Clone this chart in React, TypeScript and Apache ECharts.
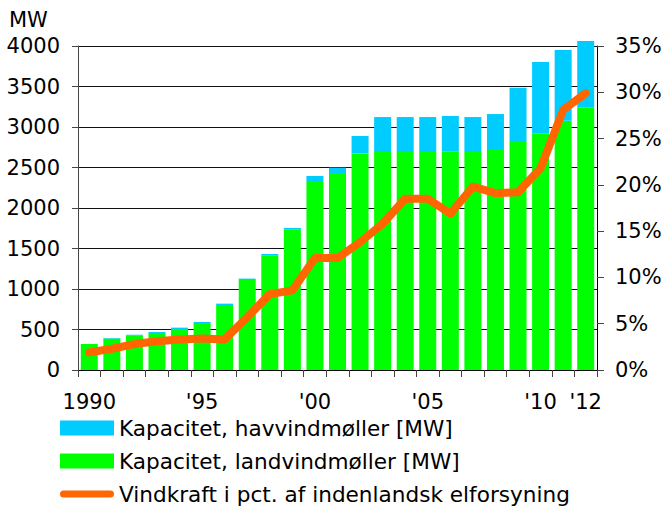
import React, { useEffect, useRef } from "react";
import * as echarts from "echarts";

const years = [
  "1990", "1991", "1992", "1993", "1994", "1995", "1996", "1997", "1998", "1999",
  "2000", "2001", "2002", "2003", "2004", "2005", "2006", "2007", "2008", "2009",
  "2010", "2011", "2012",
];
const landMW = [
  321, 388, 424, 457, 506, 580, 802, 1111, 1416, 1737,
  2333, 2432, 2671, 2691, 2691, 2691, 2700, 2691, 2728, 2815,
  2922, 3078, 3239,
];
const offshoreMW = [
  0, 7, 12, 12, 17, 13, 17, 17, 16, 16,
  62, 66, 218, 432, 432, 432, 436, 432, 432, 671,
  880, 873, 823,
];
const windSharePct = [
  1.9, 2.3, 2.8, 3.1, 3.3, 3.4, 3.3, 5.7, 8.2, 8.6,
  12.1, 12.1, 13.8, 15.8, 18.5, 18.5, 16.9, 19.8, 19.1, 19.2,
  21.8, 28.1, 29.9,
];
const xTickIndices = [0, 5, 10, 15, 20, 22];
const xTickLabels = ["1990", "'95", "'00", "'05", "'10", "'12"];

const seriesNames = [
  "Kapacitet, havvindmøller [MW]",
  "Kapacitet, landvindmøller [MW]",
  "Vindkraft i pct. af indenlandsk elforsyning",
];

const FONT = "'DejaVu Sans', Verdana, sans-serif";
const FS = 21;

export default function App() {
  const ref = useRef<HTMLDivElement>(null);
  useEffect(() => {
    document.body.style.margin = "0";
    const chart = echarts.init(ref.current!, null, { renderer: "svg" });
    const lineIcon =
      "path://M4,0 L56,0 A4,4 0 0 1 56,8 L4,8 A4,4 0 0 1 4,0 Z";
    chart.setOption({
      animation: false,
      textStyle: { fontFamily: FONT, color: "#000" },
      grid: { left: 78, right: 70, top: 46, bottom: 136 },
      graphic: [
        {
          type: "text",
          left: 9,
          top: 9,
          style: { text: "MW", fontFamily: FONT, fontSize: FS, fill: "#000" },
        },
      ],
      legend: {
        orient: "vertical",
        left: 60,
        top: 417,
        height: 120,
        padding: 0,
        itemWidth: 54,
        itemHeight: 15,
        itemGap: 11,
        textStyle: { fontFamily: FONT, fontSize: 21.6, lineHeight: 21, color: "#000" },
        data: [
          { name: seriesNames[0], icon: "rect" },
          { name: seriesNames[1], icon: "rect" },
          { name: seriesNames[2], icon: lineIcon, itemStyle: { color: "#FF6600" } },
        ],
        selectedMode: false,
      },
      xAxis: {
        type: "category",
        data: years,
        boundaryGap: true,
        axisLine: { lineStyle: { color: "#000", width: 1 } },
        axisTick: { show: true, interval: 0, length: 7, lineStyle: { color: "#444" } },
        axisLabel: {
          interval: (i: number) => xTickIndices.includes(i),
          formatter: (_v: string, i: number) => {
            const k = xTickIndices.indexOf(i);
            return k >= 0 ? xTickLabels[k] : "";
          },
          margin: 21,
          fontSize: FS,
          fontFamily: FONT,
          color: "#000",
        },
      },
      yAxis: [
        {
          type: "value",
          min: 0,
          max: 4000,
          interval: 500,
          axisLine: { show: true, lineStyle: { color: "#444" } },
          axisTick: { show: true, length: 6, lineStyle: { color: "#444" } },
          axisLabel: {
            margin: 18,
            fontSize: FS,
            fontFamily: FONT,
            color: "#000",
            formatter: (v: number) => String(v),
          },
          splitLine: { show: true, lineStyle: { color: "#111", width: 1 } },
        },
        {
          type: "value",
          min: 0,
          max: 35,
          interval: 5,
          position: "right",
          axisLine: { show: true, lineStyle: { color: "#000" } },
          axisTick: { show: true, length: 7, lineStyle: { color: "#444" } },
          axisLabel: {
            margin: 18,
            fontSize: FS,
            fontFamily: FONT,
            color: "#000",
            formatter: "{value}%",
          },
          splitLine: { show: false },
        },
      ],
      series: [
        {
          name: seriesNames[1],
          type: "bar",
          stack: "cap",
          barWidth: 17,
          clip: false,
          itemStyle: { color: "#00FF00" },
          data: landMW,
        },
        {
          name: seriesNames[0],
          type: "bar",
          stack: "cap",
          barWidth: 17,
          clip: false,
          itemStyle: { color: "#00CCFF" },
          data: offshoreMW,
        },
        {
          name: seriesNames[2],
          type: "line",
          yAxisIndex: 1,
          symbol: "none",
          clip: false,
          lineStyle: { color: "#FF6600", width: 8, cap: "round", join: "round" },
          itemStyle: { color: "#FF6600" },
          data: windSharePct,
          z: 5,
        },
      ],
    });
    return () => chart.dispose();
  }, []);
  return <div ref={ref} style={{ width: 667, height: 506 }} />;
}
